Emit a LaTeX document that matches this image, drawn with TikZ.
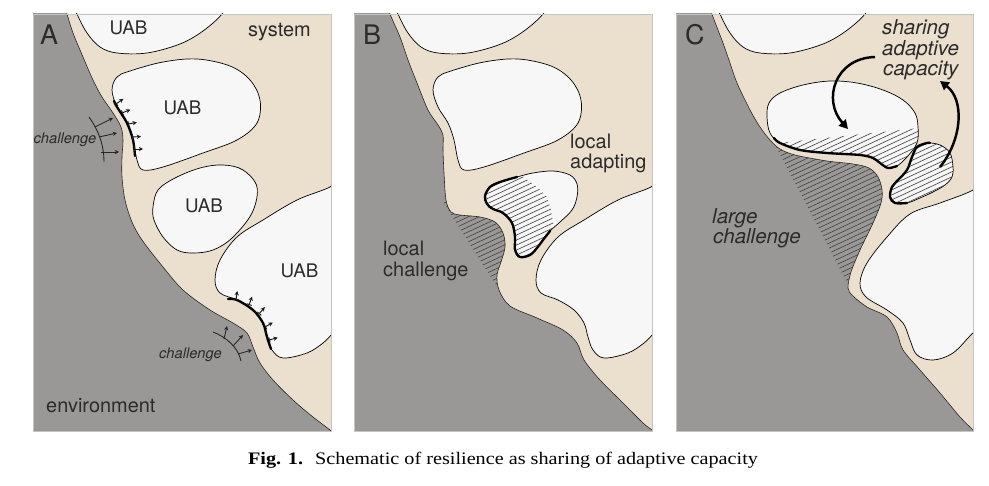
\documentclass[tikz,border=0pt]{standalone}
\usepackage{fontspec}
\setmainfont{Liberation Serif}
\newfontfamily\heros{TeX Gyre Heros}
\usetikzlibrary{arrows.meta}
\definecolor{envgray}{HTML}{999897}
\definecolor{systan}{HTML}{EBE0CD}
\definecolor{uabwhite}{HTML}{F7F7F7}
\definecolor{txtgray}{HTML}{2B2B2B}
\definecolor{framegray}{HTML}{C4C4C4}
\definecolor{hatchgray}{HTML}{464646}
\tikzset{
  blob/.style={fill=uabwhite, draw=black, line width=0.6pt},
  envline/.style={draw=black!85, line width=0.5pt},
  thickedge/.style={draw=black, line width=2pt, line cap=round},
  hatchline/.style={draw=hatchgray, line width=0.55pt},
  panelframe/.style={draw=framegray, line width=0.6pt},
  resp/.style={draw=black!90, line width=0.8pt, arrows={Bar[width=4.5pt]-Stealth[length=3.6pt,width=3.6pt]}},
  chalarrow/.style={draw=black!85, line width=0.75pt, arrows={-Stealth[length=3.6pt,width=3.6pt]}},
  bigarrow/.style={draw=black, line width=2.1pt, arrows={-Triangle[length=7.5pt,width=8pt]}},
  lbl/.style={font=\heros\fontsize{17}{17}\selectfont, text=txtgray, inner sep=0pt, anchor=base west},
  lbli/.style={font=\heros\itshape\fontsize{17.5}{17.5}\selectfont, text=txtgray, inner sep=0pt, anchor=base west},
  uab/.style={font=\heros\fontsize{16}{16}\selectfont, text=txtgray, inner sep=0pt, anchor=base},
  letter/.style={font=\heros\fontsize{23}{23}\selectfont, text=txtgray, inner sep=0pt, anchor=base west},
  chal/.style={font=\heros\itshape\fontsize{12.5}{12.5}\selectfont, text=txtgray, inner sep=0pt, anchor=base west},
  caption/.style={font=\fontsize{15}{15}\selectfont, text=black, inner sep=0pt, anchor=base},
}
% hatching: #1 x start, #2 y start, #3 horizontal length, #4 count
\newcommand\hatchlines[4]{\foreach \i in {0,...,#4}{\draw[hatchline] (#1,{#2+\i*5}) -- ++(#3,{-0.4663*#3});}}
% response arrow: x, y, screen angle
\newcommand\resparrow[3]{\draw[resp] (#1,#2) -- ++({9*cos(#3)},{-9*sin(#3)});}
% path helpers (expand coordinate lists first)
\newcommand\smoothline[2]{\edef\pdtmp{\unexpanded{#1} plot[smooth,tension=0.55] coordinates {#2};}\pdtmp}
\newcommand\smoothblob[2]{\edef\pdtmp{\unexpanded{#1} plot[smooth cycle,tension=0.58] coordinates {#2};}\pdtmp}
\newcommand\envregion[4]{\edef\pdtmp{\unexpanded{#1} #2 -- plot[smooth,tension=0.55] coordinates {#3} -- #4 -- cycle;}\pdtmp}
% coordinates, panel A
\def\envAc{(64,5) (67,14) (73,33) (83,57) (93,80) (102,97) (113,113) (121,127) (123,140) (122,157) (122,177) (125,200) (132,222) (142,240) (163,267) (183,290) (210,310) (233,323) (247,333) (253,347) (260,363) (273,380) (293,400) (313,417) (330,430) (338,437)}
\def\blobTc{(72,0) (77,14) (87,33) (100,47) (117,53) (147,53) (180,44) (203,31) (222,14) (228,0) (150,-5)}
\def\blobMc{(112,90) (117,77) (130,71) (163,62) (197,59) (230,66) (250,80) (260,100) (257,123) (237,140) (203,153) (163,167) (143,170) (137,160) (133,140) (127,123) (117,107)}
\def\blobSc{(153,207) (158,190) (175,178) (200,168) (223,165) (243,170) (257,187) (252,213) (232,238) (213,250) (193,253) (177,250) (163,237) (154,220)}
\def\blobRc{(345,175) (330,187) (297,200) (263,220) (237,237) (220,260) (215,280) (220,293) (237,300) (253,310) (263,323) (267,337) (272,350) (283,358) (307,353) (323,343) (333,333) (345,320)}
% panel B
\def\envBc{(388,5) (390,14) (400,37) (408,60) (417,83) (428,110) (438,125) (443,135) (443,150) (444,173) (446,200) (451,212) (460,215) (480,217) (495,222) (503,233) (505,247) (501,262) (497,275) (499,290) (510,306) (537,318) (563,330) (577,343) (584,360) (600,380) (623,403) (643,423) (652,430) (660,437)}
\def\blobSBc{(485,196) (490,187) (500,182) (517,177) (533,173) (553,171) (570,175) (577,184) (577,197) (572,210) (560,222) (550,231) (543,240) (537,248) (530,255) (520,257) (515,250) (515,237) (512,223) (503,213) (493,209) (487,204)}
% panel C
\def\envCc{(710,5) (712,14) (718,30) (723,43) (730,63) (737,83) (750,110) (760,127) (770,140) (780,149) (795,155) (827,161) (853,164) (869,168) (878,177) (882,190) (881,203) (873,223) (860,250) (851,272) (848,288) (853,296) (867,307) (887,317) (897,333) (903,350) (920,370) (940,393) (960,417) (973,430) (980,437)}
\def\blobMCc{(767,117) (769,103) (780,93) (803,85) (830,81) (857,83) (883,90) (903,100) (915,113) (918,127) (917,143) (907,157) (897,166) (888,168) (880,163) (873,158) (860,155) (827,153) (800,150) (780,143) (770,133)}
\def\blobSCc{(917,147) (927,143) (940,145) (950,153) (953,167) (952,177) (945,185) (933,192) (920,198) (907,203) (895,203) (890,197) (892,187) (898,180) (907,170) (912,157)}
\def\blobRCc{(990,175) (973,190) (940,203) (910,214) (887,237) (867,263) (860,283) (866,297) (887,310) (903,323) (910,340) (917,355) (933,360) (953,353) (973,333) (990,320)}
\begin{document}
\begin{tikzpicture}[x=0.03cm,y=-0.03cm]
\useasboundingbox (0,0) rectangle (989,486);
\fill[white] (0,0) rectangle (989,486);
%================ Panel A
\begin{scope}
  \clip (33,14) rectangle (331,431);
  \fill[systan] (33,14) rectangle (331,431);
  \envregion{\fill[envgray]}{(20,445) -- (20,0) -- (64,0)}{\envAc}{(345,445)}
  \smoothline{\draw[envline]}{\envAc}
  \smoothblob{\draw[blob]}{\blobTc}
  \smoothblob{\draw[blob]}{\blobMc}
  \smoothblob{\draw[blob]}{\blobSc}
  \smoothblob{\draw[blob]}{\blobRc}
  \smoothline{\draw[thickedge]}{(114,101) (117,107) (127,123) (133,140) (135,156)}
  \smoothline{\draw[thickedge]}{(228,299) (237,300) (253,310) (263,323) (267,337) (271,349)}
\end{scope}
\draw[panelframe] (33,14) rectangle (331,431);
% response arrows on UAB edges
\resparrow{116}{104}{35}
\resparrow{122}{113}{22}
\resparrow{128}{124}{10}
\resparrow{132}{137}{3}
\resparrow{134}{149}{0}
\resparrow{236}{300}{82}
\resparrow{249}{305}{70}
\resparrow{259}{314}{50}
\resparrow{265}{327}{30}
\resparrow{269}{340}{15}
% challenge fronts
\draw[black!85, line width=0.75pt] (89,117) .. controls (97,128) and (104,143) .. (104,162);
\draw[chalarrow] (95,127) -- (113,118);
\draw[chalarrow] (99,137) -- (117,133);
\draw[chalarrow] (101,152) -- (119,152);
\draw[black!85, line width=0.75pt] (213,332) .. controls (226,337) and (238,347) .. (241,361);
\draw[chalarrow] (224,339) -- (227,326);
\draw[chalarrow] (233,346) -- (243,335);
\draw[chalarrow] (238,354) -- (252,350);
% labels A
\node[letter] (la) at (40,45) {A};
\node[lbl] (sys) at (248,37) {system};
\node[uab] (u1) at (128.5,35) {UAB};
\node[uab] (u2) at (182.5,115) {UAB};
\node[uab] (u3) at (204,213) {UAB};
\node[uab] (u4) at (299.5,278) {UAB};
\node[lbl] (env) at (46,412) {environment};
\node[chal] (c1) at (33.5,144) {challenge};
\node[chal] (c2) at (159,358) {challenge};
%================ Panel B
\begin{scope}
  \clip (354,14) rectangle (652,431);
  \fill[systan] (354,14) rectangle (652,431);
  \envregion{\fill[envgray]}{(340,445) -- (340,0) -- (388,0)}{\envBc}{(665,445)}
  \begin{scope}
    \envregion{\clip}{(340,445) -- (340,0) -- (388,0)}{\envBc}{(665,445)}
    \clip (443,202) -- (520,202) -- (520,290) -- (499,290) -- cycle;
    \hatchlines{440}{200}{85}{28}
  \end{scope}
  \smoothline{\draw[envline]}{\envBc}
  \begin{scope}[shift={(321,0)}]
    \smoothblob{\draw[blob]}{\blobTc}
    \smoothblob{\draw[blob]}{\blobMc}
    \smoothblob{\draw[blob]}{\blobRc}
  \end{scope}
  \smoothblob{\draw[blob]}{\blobSBc}
  \begin{scope}
    \smoothblob{\clip}{\blobSBc}
    \clip (505,165) -- (522,176) -- (537,187) -- (547,197) -- (551,210) -- (554,228) -- (565,265) -- (475,265) -- (475,165) -- cycle;
    \hatchlines{478}{168}{90}{29}
  \end{scope}
  \smoothline{\draw[thickedge]}{(517,177) (500,182) (490,187) (485,196) (487,204) (493,209) (503,213) (512,223) (515,237) (515,250) (520,257) (530,255) (537,248) (543,240) (550,231)}
\end{scope}
\draw[panelframe] (354,14) rectangle (652,431);
\node[letter] (lb) at (363,45) {B};
\node[lbl] (lloc) at (570,149) {local};
\node[lbl] (ladp) at (570,169) {adapting};
\node[lbl] (lcl) at (383,256) {local};
\node[lbl] (lch) at (383,276) {challenge};
%================ Panel C
\begin{scope}
  \clip (676,14) rectangle (973,431);
  \fill[systan] (676,14) rectangle (973,431);
  \envregion{\fill[envgray]}{(660,445) -- (660,0) -- (710,0)}{\envCc}{(990,445)}
  \begin{scope}
    \envregion{\clip}{(660,445) -- (660,0) -- (710,0)}{\envCc}{(990,445)}
    \clip (770,135) -- (950,135) -- (950,300) -- (856,300) -- cycle;
    \hatchlines{765}{133}{125}{46}
  \end{scope}
  \smoothline{\draw[envline]}{\envCc}
  \begin{scope}[shift={(643,0)}]
    \smoothblob{\draw[blob]}{\blobTc}
  \end{scope}
  \smoothblob{\draw[blob]}{\blobRCc}
  \smoothblob{\draw[blob]}{\blobMCc}
  \begin{scope}
    \smoothblob{\clip}{\blobMCc}
    \clip (760,145) -- (920,128) -- (930,200) -- (760,200) -- cycle;
    \hatchlines{760}{120}{165}{27}
  \end{scope}
  \smoothline{\draw[thickedge]}{(774,138) (780,143) (800,150) (827,153) (860,155) (873,158) (880,163) (888,168) (897,166)}
  \smoothblob{\draw[blob]}{\blobSCc}
  \begin{scope}
    \smoothblob{\clip}{\blobSCc}
    \hatchlines{885}{138}{72}{22}
  \end{scope}
  \smoothline{\draw[thickedge]}{(930,143) (927,143) (917,147) (912,157) (907,170) (898,180) (892,187) (890,197) (895,203) (907,203)}
\end{scope}
\draw[panelframe] (676,14) rectangle (973,431);
% sharing arrows
\coordinate (a1s) at (875,57);
\coordinate (a1e) at (848,129);
\coordinate (a2s) at (940,167);
\coordinate (a2e) at (940,81);
\draw[bigarrow] (a1s) .. controls (835,58) and (822,100) .. (a1e);
\draw[bigarrow] (a2s) .. controls (962,140) and (965,100) .. (a2e);
\node[letter] (lc) at (685,45) {C};
\node[lbli] (s1) at (882,35) {sharing};
\node[lbli] (s2) at (882,56) {adaptive};
\node[lbli] (s3) at (883,76) {capacity};
\node[lbli] (lg) at (712,224) {large};
\node[lbli] (lgc) at (713,244) {challenge};
%================ caption
\node[caption] (cap) at (503,464) {\scalebox{1.15}[1]{\textbf{Fig. 1.}\hspace{0.6em}Schematic of resilience as sharing of adaptive capacity}};
\end{tikzpicture}
\end{document}
